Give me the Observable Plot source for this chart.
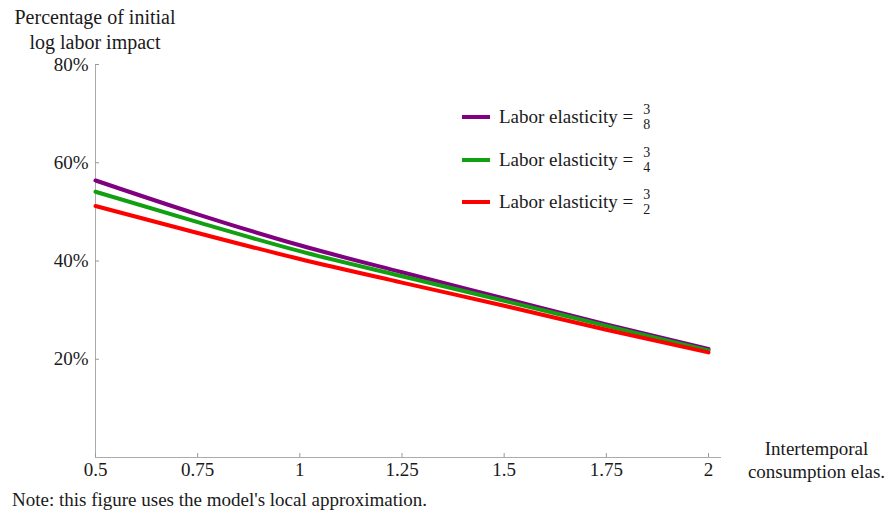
<!DOCTYPE html>
<html>
<head>
<meta charset="utf-8">
<script src="https://cdn.jsdelivr.net/npm/d3@7"></script>
<script src="https://cdn.jsdelivr.net/npm/@observablehq/plot@0.6"></script>
<style>
  body { margin: 0; background: #fff; font-family: "Liberation Serif", "Times New Roman", serif; color: #1a1a1a; }
  #wrap { position: relative; width: 888px; height: 514px; overflow: hidden; }
  #title { width: 190px; height: 56px; padding-top: 5px; box-sizing: border-box; text-align: center; font-size: 20px; line-height: 25px; }
  #note { padding-left: 12px; font-size: 19px; line-height: 28px; }
  .legend-row { position: absolute; left: 462px; height: 24px; display: flex; align-items: center; font-size: 19px; white-space: nowrap; }
  .swatch { display: inline-block; width: 28px; height: 4px; margin-right: 9px; }
  .frac { display: inline-flex; flex-direction: column; align-items: center; font-size: 14px; line-height: 15px; margin-left: 10px; }
</style>
</head>
<body>
<div id="wrap">
  <div id="title"></div>
  <div id="chart"></div>
  <div id="note"></div>
  <div id="legend"></div>
</div>
<script>
// Intertemporal consumption elasticity (x) and share of the initial log labor impact (y)
const elasticity = [0.5, 0.75, 1, 1.25, 1.5, 1.75, 2];
const impactLow  = [0.564, 0.495, 0.432, 0.377, 0.324, 0.271, 0.221]; // labor elasticity 3/8
const impactMid  = [0.541, 0.479, 0.420, 0.369, 0.319, 0.268, 0.218]; // labor elasticity 3/4
const impactHigh = [0.512, 0.457, 0.404, 0.356, 0.309, 0.260, 0.214]; // labor elasticity 3/2

const seriesNames = ["3/8", "3/4", "3/2"];
const seriesColors = ["#800080", "#12a012", "#ff0000"];
const seriesValues = [impactLow, impactMid, impactHigh];

const xTicks = [0.5, 0.75, 1, 1.25, 1.5, 1.75, 2];
const yTicks = [0.2, 0.4, 0.6, 0.8];

const titleLines = ["Percentage of initial", "log labor impact"];
const xLabel = "Intertemporal\nconsumption elas.";
const noteText = "Note: this figure uses the model's local approximation.";
const legendPrefix = "Labor elasticity =";

const rows = seriesNames.flatMap((name, s) =>
  elasticity.map((x, i) => ({x, y: seriesValues[s][i], series: name}))
);

const font = "'Liberation Serif', 'Times New Roman', serif";

const chart = Plot.plot({
  width: 888,
  height: 430,
  marginTop: 8,
  marginBottom: 29,
  marginLeft: 95,
  marginRight: 180,
  style: {fontFamily: font, fontSize: "19px", color: "#1a1a1a", background: "transparent", overflow: "visible"},
  x: {domain: [0.5, 2]},
  y: {domain: [0, 0.8]},
  color: {domain: seriesNames, range: seriesColors},
  marks: [
    Plot.ruleX([0.5], {y1: 0, y2: 0.8, insetTop: -3, stroke: "#ababab", strokeWidth: 1}),
    Plot.ruleY([0], {x1: 0.5, x2: 2, insetRight: -13, stroke: "#ababab", strokeWidth: 1}),
    Plot.axisY({ticks: yTicks, tickSize: 4, dx: 4, tickPadding: 7, tickFormat: d => `${Math.round(d * 100)}%`,
      stroke: "#999", fill: "#1a1a1a", label: null, fontSize: 19}),
    Plot.axisX({ticks: xTicks, tickSize: 4, dy: -4, tickPadding: 5, tickFormat: d => String(d),
      stroke: "#999", fill: "#1a1a1a", label: null, fontSize: 19}),
    Plot.line(rows, {x: "x", y: "y", z: "series", stroke: "series", strokeWidth: 4, curve: "monotone-x"}),
    Plot.text([xLabel], {frameAnchor: "bottom-right", text: d => d, dx: 108, dy: 1.5,
      textAnchor: "middle", lineAnchor: "middle", lineHeight: 1.2, fontSize: 19, fill: "#1a1a1a"})
  ]
});
document.getElementById("chart").append(chart);

document.getElementById("title").innerHTML = titleLines.join("<br>");
document.getElementById("note").textContent = noteText;

// Legend rows: colour swatch, label and a stacked fraction
const legend = document.getElementById("legend");
const legendTops = [105, 148, 190];
seriesNames.forEach((name, i) => {
  const [num, den] = name.split("/");
  const row = document.createElement("div");
  row.className = "legend-row";
  row.style.top = legendTops[i] + "px";
  row.innerHTML = `<span class="swatch" style="background:${seriesColors[i]}"></span>` +
    `<span>${legendPrefix}</span>` +
    `<span class="frac"><span>${num}</span><span>${den}</span></span>`;
  legend.append(row);
});
</script>
</body>
</html>
